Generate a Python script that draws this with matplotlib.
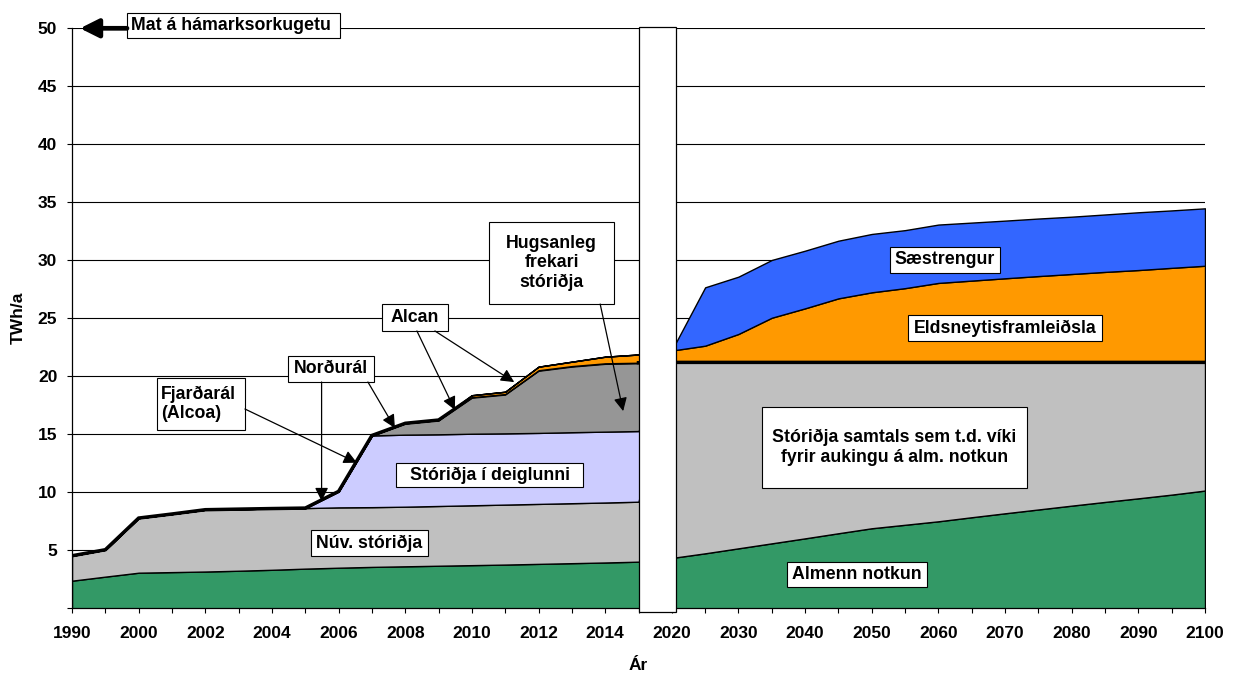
import numpy as np
import matplotlib
matplotlib.use("Agg")
import matplotlib.pyplot as plt
from matplotlib.patches import Rectangle

plt.rcParams["font.family"] = ["Liberation Sans", "DejaVu Sans"]
plt.rcParams["font.weight"] = "bold"

# Category axis: 1990, 1995, yearly 2000-2015, then every 5 years to 2100
years = ["1990", "1995", "2000", "2001", "2002", "2003", "2004", "2005", "2006",
         "2007", "2008", "2009", "2010", "2011", "2012", "2013", "2014", "2015",
         "2020", "2025", "2030", "2035", "2040", "2045", "2050", "2055", "2060",
         "2065", "2070", "2075", "2080", "2085", "2090", "2095", "2100"]

# Upper boundary of each stacked layer (TWh/a, cumulative)
almenn_top = [2.38, 2.73, 3.07, 3.12, 3.17, 3.24, 3.32, 3.42, 3.50, 3.57, 3.62,
              3.67, 3.72, 3.77, 3.83, 3.89, 3.95, 4.02,
              4.34, 4.74, 5.17, 5.60, 6.03, 6.47, 6.90, 7.20, 7.50, 7.85, 8.19,
              8.52, 8.85, 9.17, 9.48, 9.80, 10.15]
nuv_top = [4.53, 5.05, 7.78, 8.13, 8.50, 8.55, 8.60, 8.64, 8.70, 8.72, 8.76,
           8.82, 8.88, 8.94, 9.00, 9.06, 9.12, 9.19,
           21.2, 21.2, 21.2, 21.2, 21.2, 21.2, 21.2, 21.2, 21.2, 21.2, 21.2,
           21.2, 21.2, 21.2, 21.2, 21.2, 21.2]
deiglunni_top = [4.53, 5.05, 7.78, 8.13, 8.50, 8.55, 8.60, 8.64, 10.08, 14.90, 14.97,
                 15.00, 15.05, 15.08, 15.12, 15.18, 15.23, 15.28,
                 21.2, 21.2, 21.2, 21.2, 21.2, 21.2, 21.2, 21.2, 21.2, 21.2, 21.2,
                 21.2, 21.2, 21.2, 21.2, 21.2, 21.2]
frekari_top = [4.53, 5.05, 7.78, 8.13, 8.50, 8.55, 8.60, 8.64, 10.08, 14.90, 15.95,
               16.23, 18.20, 18.47, 20.52, 20.88, 21.12, 21.17,
               21.2, 21.2, 21.2, 21.2, 21.2, 21.2, 21.2, 21.2, 21.2, 21.2, 21.2,
               21.2, 21.2, 21.2, 21.2, 21.2, 21.2]
eldsneyti_top = [4.53, 5.05, 7.78, 8.13, 8.50, 8.55, 8.60, 8.64, 10.08, 14.90, 15.95,
                 16.23, 18.37, 18.67, 20.83, 21.26, 21.69, 21.88,
                 22.22, 22.64, 23.65, 25.05, 25.86, 26.72, 27.24, 27.60, 28.05, 28.25,
                 28.45, 28.64, 28.82, 29.00, 29.16, 29.35, 29.53]
saestrengur_top = [4.53, 5.05, 7.78, 8.13, 8.50, 8.55, 8.60, 8.64, 10.08, 14.90, 15.95,
                   16.23, 18.37, 18.67, 20.83, 21.26, 21.69, 21.88,
                   22.25, 27.67, 28.59, 30.03, 30.83, 31.69, 32.27, 32.60, 33.08, 33.25,
                   33.42, 33.60, 33.76, 33.95, 34.14, 34.30, 34.48]

layer_colors = ["#339966", "#C0C0C0", "#CCCCFF", "#969696", "#FF9900", "#3366FF"]

x = np.arange(len(years))
bounds = [np.zeros(len(x))] + [np.asarray(b) for b in
          (almenn_top, nuv_top, deiglunni_top, frekari_top, eldsneyti_top, saestrengur_top)]
split = years.index("2015")

fig = plt.figure(figsize=(12.33, 6.73), dpi=100)
ax = fig.add_axes([72 / 1233, 1 - 608.3 / 673, 1133 / 1233, 580 / 673])

# Stacked areas (industry layers first, heavy industry-total line, then fuel and cable)
for i in range(4):
    ax.fill_between(x, bounds[i], bounds[i + 1], facecolor=layer_colors[i],
                    edgecolor="black", linewidth=1.0, zorder=1 + 0.05 * i)
ax.plot(x[:split + 1], bounds[4][:split + 1], color="black", linewidth=2.5,
        zorder=1.3, solid_joinstyle="miter")
for i in range(4, 6):
    ax.fill_between(x, bounds[i], bounds[i + 1], facecolor=layer_colors[i],
                    edgecolor="black", linewidth=1.0, zorder=1.4 + 0.05 * i)
ax.plot(x[split:], bounds[4][split:], color="black", linewidth=2.5, zorder=1.8)

ax.set_xlim(0, len(x) - 1)
ax.set_ylim(0, 50)

ax.set_xticks(x)
ax.set_xticklabels([y if i % 2 == 0 else "" for i, y in enumerate(years)])
ax.set_yticks(np.arange(0, 51, 5))
ax.set_yticklabels([""] + [str(v) for v in range(5, 51, 5)])
ax.tick_params(axis="both", direction="out", length=3.6, width=0.8,
               labelsize=12.5, color="black")
ax.tick_params(axis="x", pad=9.5)
ax.tick_params(axis="y", pad=7)
for lbl in ax.get_xticklabels() + ax.get_yticklabels():
    lbl.set_fontweight("bold")

for side in ("top", "right"):
    ax.spines[side].set_visible(False)
for side in ("left", "bottom"):
    ax.spines[side].set_linewidth(0.9)
    ax.spines[side].set_color("black")

ax.set_axisbelow(True)
ax.yaxis.grid(True, color="black", linewidth=0.8)

ax.set_ylabel("TWh/a", fontsize=12.5, fontweight="bold", va="center")
ax.yaxis.set_label_coords(-0.0477, 0.5)
ax.set_xlabel("Ár", fontsize=12.5, fontweight="bold", va="center")
ax.xaxis.set_label_coords(0.5, -0.098)

# Break between the historic period and the long-term outlook
ax.add_patch(Rectangle((17.0, -0.36), 1.12, 50.45, facecolor="white",
                       edgecolor="black", linewidth=0.9, zorder=5, clip_on=False))


def label_box(x0, x1, y0, y1, text, ha="center"):
    ax.add_patch(Rectangle((x0, y0), x1 - x0, y1 - y0, facecolor="white",
                           edgecolor="black", linewidth=0.8, zorder=6, clip_on=False))
    tx = (x0 + x1) / 2 if ha == "center" else x0 + 0.13
    ax.text(tx, (y0 + y1) / 2, text, ha=ha, va="center", fontsize=12.8,
            fontweight="bold", zorder=7, clip_on=False, multialignment=ha)


def pointer(start, tip, lw=0.9, scale=20):
    ax.annotate("", xy=tip, xytext=start, annotation_clip=False,
                arrowprops=dict(arrowstyle="-|>", mutation_scale=scale, lw=lw,
                                color="black", shrinkA=0, shrinkB=0),
                zorder=6)


label_box(1.65, 8.04, 49.16, 51.32, "Mat á hámarksorkugetu", ha="left")
pointer((1.65, 50.0), (0.24, 50.0), lw=3.4, scale=28)

label_box(2.55, 5.19, 15.37, 19.85, "Fjarðarál\n(Alcoa)", ha="left")
pointer((5.19, 17.18), (8.55, 12.55))

label_box(6.48, 9.06, 19.51, 21.75, "Norðurál")
pointer((7.49, 19.51), (7.49, 9.25))
pointer((8.88, 19.51), (9.69, 15.54))

label_box(9.30, 11.28, 23.91, 26.23, "Alcan")
pointer((10.35, 23.91), (11.49, 17.10))
pointer((10.89, 23.91), (13.27, 19.50))

label_box(12.52, 16.27, 26.23, 33.30, "Hugsanleg\nfrekari\nstóriðja")
pointer((15.85, 26.23), (16.54, 17.0))

label_box(9.72, 15.34, 10.46, 12.53, "Stóriðja í deiglunni")
label_box(7.17, 10.68, 4.51, 6.75, "Núv. stóriðja")
label_box(21.46, 25.66, 1.84, 3.99, "Almenn notkun")
label_box(20.71, 28.66, 10.37, 17.36,
          "Stóriðja samtals sem t.d. víki\nfyrir aukingu á alm. notkun")
label_box(25.09, 30.91, 23.04, 25.28, "Eldsneytisframleiðsla")
label_box(24.55, 27.85, 28.91, 31.15, "Sæstrengur")

fig.savefig("out.png", dpi=100, facecolor="white")
